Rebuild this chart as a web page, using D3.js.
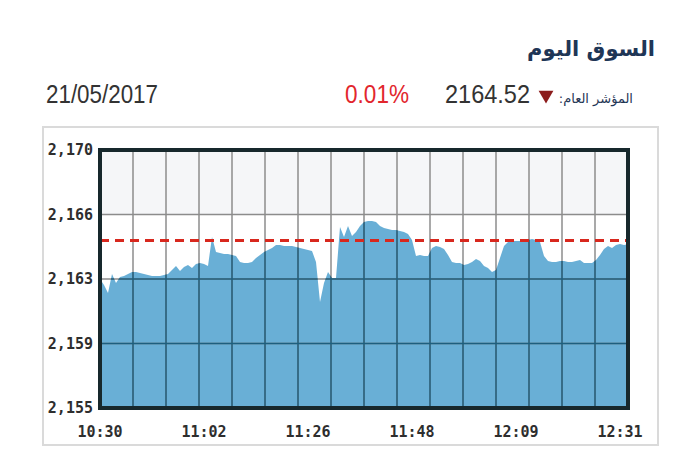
<!DOCTYPE html>
<html>
<head>
<meta charset="utf-8">
<script src="https://cdn.jsdelivr.net/npm/d3@7"></script>
<style>
  body { margin: 0; background: #fff; }
  svg { display: block; }
</style>
</head>
<body>
<svg id="chart"></svg>
<script>
// Index values, sampled along the session (one point every few minutes of trading)
var values = [
  2162.50, 2162.15, 2161.69, 2162.79, 2162.27, 2162.62, 2162.67, 2162.79, 2162.91, 2162.91,
  2162.85, 2162.79, 2162.73, 2162.67, 2162.67, 2162.67, 2162.73, 2162.79, 2163.02, 2163.26,
  2162.96, 2163.20, 2163.31, 2163.14, 2163.37, 2163.43, 2163.37, 2163.26, 2164.94, 2164.07,
  2164.01, 2163.95, 2163.95, 2163.90, 2163.84, 2163.49, 2163.43, 2163.43, 2163.49, 2163.72,
  2163.90, 2164.07, 2164.19, 2164.30, 2164.48, 2164.48, 2164.42, 2164.42, 2164.42, 2164.36,
  2164.30, 2164.24, 2164.19, 2164.13, 2163.49, 2161.16, 2162.27, 2162.91, 2162.56, 2162.56,
  2165.52, 2164.94, 2165.58, 2165.00, 2165.23, 2165.58, 2165.81, 2165.87, 2165.87, 2165.81,
  2165.58, 2165.47, 2165.41, 2165.35, 2165.35, 2165.29, 2165.23, 2165.12, 2164.77, 2163.84,
  2163.90, 2163.84, 2163.84, 2164.30, 2164.42, 2164.36, 2164.24, 2163.90, 2163.49, 2163.43,
  2163.43, 2163.31, 2163.37, 2163.49, 2163.66, 2163.55, 2163.26, 2163.14, 2162.91, 2163.02,
  2163.72, 2164.42, 2164.65, 2164.71, 2164.71, 2164.71, 2164.77, 2164.77, 2164.83, 2164.77,
  2164.65, 2163.84, 2163.55, 2163.49, 2163.49, 2163.55, 2163.55, 2163.49, 2163.49, 2163.55,
  2163.60, 2163.43, 2163.43, 2163.43, 2163.60, 2163.90, 2164.24, 2164.42, 2164.30, 2164.48,
  2164.54, 2164.48, 2164.52
];
var prevClose = 2164.74;

// axis ticks
var yTicks = [2155, 2158.75, 2162.5, 2166.25, 2170];
var yTickLabels = ["2,155", "2,159", "2,163", "2,166", "2,170"];
var xTickIndex = [0, 26, 52, 78, 104, 130];
var xTickLabels = ["10:30", "11:02", "11:26", "11:48", "12:09", "12:31"];
var vGridCount = 16;

// header texts
var title = "السوق اليوم";
var dateText = "21/05/2017";
var indexLabel = "المؤشر العام:\u200F";
var indexValue = "2164.52";
var changeText = "0.01%";

var W = 700, H = 450;
var margin = {top: 150, right: 72, bottom: 42, left: 100},
    width = W - margin.left - margin.right,
    height = H - margin.top - margin.bottom;

var svg = d3.select("#chart").attr("width", W).attr("height", H);

// card border
svg.append("rect")
    .attr("x", 43).attr("y", 127).attr("width", 615).attr("height", 318)
    .attr("fill", "none").attr("stroke", "#dadada").attr("stroke-width", 2);

// header
svg.append("text")
    .attr("x", 655).attr("y", 56)
    .attr("text-anchor", "end")
    .style("font-family", "'DejaVu Sans'").style("font-weight", "bold").style("font-size", "21px")
    .style("fill", "#1f3656")
    .text(title);

svg.append("text")
    .attr("x", 46).attr("y", 103)
    .attr("textLength", 112).attr("lengthAdjust", "spacingAndGlyphs")
    .style("font-family", "'Liberation Sans'").style("font-size", "25px")
    .style("fill", "#333")
    .text(dateText);

svg.append("text")
    .attr("x", 345).attr("y", 103)
    .attr("textLength", 64).attr("lengthAdjust", "spacingAndGlyphs")
    .style("font-family", "'Liberation Sans'").style("font-size", "25px")
    .style("fill", "#e2262d")
    .text(changeText);

svg.append("text")
    .attr("x", 445).attr("y", 103)
    .attr("textLength", 85).attr("lengthAdjust", "spacingAndGlyphs")
    .style("font-family", "'Liberation Sans'").style("font-size", "25px")
    .style("fill", "#333")
    .text(indexValue);

svg.append("path")
    .attr("d", d3.symbol(d3.symbolTriangle, 95)())
    .attr("transform", "translate(546,95) rotate(180)")
    .attr("fill", "#8c1c1c");

svg.append("text")
    .attr("x", 633).attr("y", 103)
    .attr("text-anchor", "end")
    .style("font-family", "'DejaVu Sans'").style("font-size", "13px")
    .style("fill", "#1f3656")
    .text(indexLabel);

var g = svg.append("g")
    .attr("transform", "translate(" + margin.left + "," + margin.top + ")");

var x = d3.scaleLinear()
    .domain([0, values.length - 1])
    .range([0, width]);
var y = d3.scaleLinear()
    .domain([yTicks[0], yTicks[yTicks.length - 1]])
    .range([height, 0]);

// plot background, light band on top
g.append("rect").attr("width", width).attr("height", height).attr("fill", "#fff");
g.append("rect")
    .attr("width", width)
    .attr("height", y(yTicks[3]))
    .attr("fill", "#f5f6f8");

var area = d3.area()
    .x(function (d, i) {return x(i);})
    .y0(height)
    .y1(function (d) {return y(d);});

g.append("path")
    .datum(values)
    .attr("d", area)
    .attr("fill", "#69afd6");

g.append("clipPath").attr("id", "areaClip")
    .append("path")
    .datum(values)
    .attr("d", area);

var vGrid = d3.range(1, vGridCount).map(function (k) {return k * (values.length - 1) / vGridCount;});
var hGrid = yTicks.slice(1, -1);

function drawGrid(sel, color)
{
    sel.selectAll(".vg").data(vGrid).enter().append("line")
        .attr("x1", function (d) {return x(d);}).attr("x2", function (d) {return x(d);})
        .attr("y1", 0).attr("y2", height)
        .attr("stroke", color).attr("stroke-width", 1.5);
    sel.selectAll(".hg").data(hGrid).enter().append("line")
        .attr("x1", 0).attr("x2", width)
        .attr("y1", function (d) {return y(d);}).attr("y2", function (d) {return y(d);})
        .attr("stroke", color).attr("stroke-width", 1.5);
}

// grey grid over white, dark blue grid inside the filled area
drawGrid(g.append("g"), "#8c8c8c");
drawGrid(g.append("g").attr("clip-path", "url(#areaClip)"), "#1d5f7f");

// previous close
g.append("line")
    .attr("x1", 0).attr("x2", width)
    .attr("y1", y(prevClose)).attr("y2", y(prevClose))
    .attr("stroke", "#d8281e").attr("stroke-width", 3)
    .attr("stroke-dasharray", "9,6");

// frame
g.append("rect")
    .attr("width", width).attr("height", height)
    .attr("fill", "none").attr("stroke", "#17282c").attr("stroke-width", 4);

// y labels
g.selectAll(".yl").data(yTicks).enter().append("text")
    .attr("x", -7)
    .attr("y", function (d) {return y(d);})
    .attr("dy", "0.35em")
    .attr("text-anchor", "end")
    .style("font-family", "'DejaVu Sans Mono'").style("font-weight", "bold").style("font-size", "15px")
    .style("fill", "#2e2e2e")
    .text(function (d, i) {return yTickLabels[i];});

// x labels
g.selectAll(".xl").data(xTickIndex).enter().append("text")
    .attr("x", function (d) {return x(d);})
    .attr("y", height + 29)
    .attr("text-anchor", "middle")
    .style("font-family", "'DejaVu Sans Mono'").style("font-weight", "bold").style("font-size", "15px")
    .style("fill", "#2e2e2e")
    .text(function (d, i) {return xTickLabels[i];});
</script>
</body>
</html>
